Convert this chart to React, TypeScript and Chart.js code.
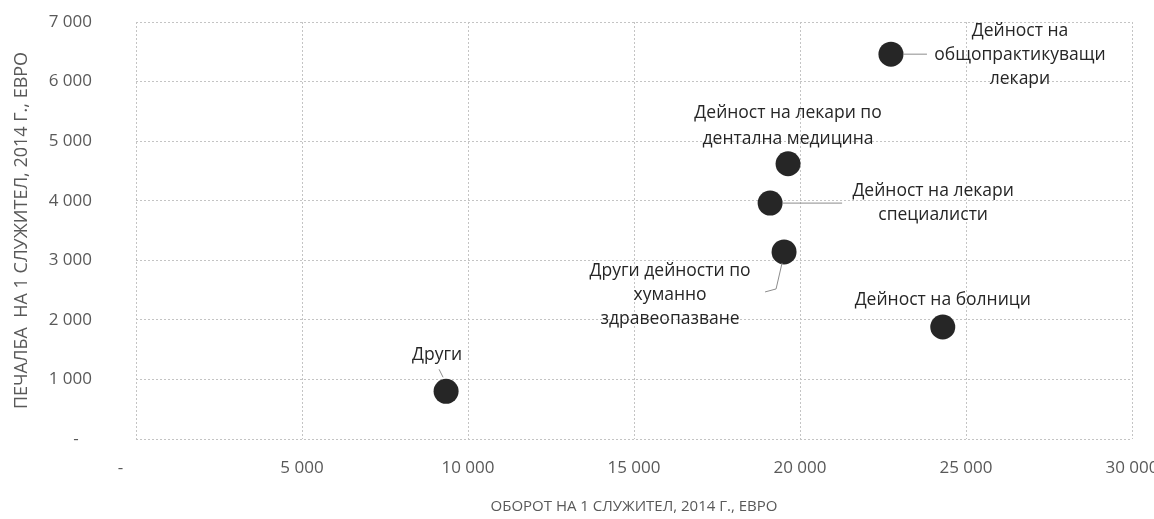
import React, { useEffect, useRef } from 'react';
import { Chart, registerables } from 'chart.js';

Chart.register(...registerables);

// ---- Data ----
const categories: string[][] = [
  ['Дейност на', 'общопрактикуващи', 'лекари'],
  ['Дейност на лекари по', 'дентална медицина'],
  ['Дейност на лекари', 'специалисти'],
  ['Други дейности по', 'хуманно', 'здравеопазване'],
  ['Дейност на болници'],
  ['Други'],
];
const turnoverPerEmployee = [22740, 19640, 19100, 19520, 24300, 9340];
const profitPerEmployee = [6460, 4620, 3960, 3140, 1880, 800];

const xTickLabels = ['-', '5 000', '10 000', '15 000', '20 000', '25 000', '30 000'];
const yTickLabels = ['-', '1 000', '2 000', '3 000', '4 000', '5 000', '6 000', '7 000'];

const xTitle = 'ОБОРОТ НА 1 СЛУЖИТЕЛ, 2014 Г., ЕВРО';
const yTitle = 'ПЕЧАЛБА  НА 1 СЛУЖИТЕЛ, 2014 Г., ЕВРО';

// ---- Styling / label placement (pixel offsets from each point) ----
const FONT = '"Open Sans", "Noto Sans", sans-serif';
const labelLayout: { dx: number; dy: number[]; leader?: number[][] }[] = [
  { dx: 129, dy: [-23, 1, 25], leader: [[12, 0], [36, 0]] },
  { dx: 0, dy: [-51, -25] },
  { dx: 163, dy: [-12, 12], leader: [[12, 0], [72, 0]] },
  { dx: -114, dy: [19, 43, 67], leader: [[-2, 11], [-8, 37], [-19, 40]] },
  { dx: 0, dy: [-27] },
  { dx: -9, dy: [-36], leader: [[-7, -22], [-3, -14]] },
];

const annotationPlugin = {
  id: 'pointAnnotations',
  afterDatasetsDraw(chart: any) {
    const ctx = chart.ctx as CanvasRenderingContext2D;
    const meta = chart.getDatasetMeta(0);
    ctx.save();
    meta.data.forEach((pt: any, i: number) => {
      const lay = labelLayout[i];
      const x = pt.x;
      const y = pt.y;
      if (lay.leader) {
        ctx.beginPath();
        ctx.strokeStyle = '#8c8c8c';
        ctx.lineWidth = 1;
        lay.leader.forEach(([lx, ly], k) => {
          if (k === 0) ctx.moveTo(x + lx, y + ly);
          else ctx.lineTo(x + lx, y + ly);
        });
        ctx.stroke();
      }
      ctx.font = `17.5px ${FONT}`;
      ctx.fillStyle = '#262626';
      ctx.textAlign = 'center';
      ctx.textBaseline = 'middle';
      categories[i].forEach((line, k) => {
        ctx.fillText(line, x + lay.dx, y + lay.dy[k]);
      });
    });
    ctx.restore();
  },
};

export default function App() {
  const canvasRef = useRef<HTMLCanvasElement | null>(null);

  useEffect(() => {
    if (!canvasRef.current) return;
    const gridColor = '#c4c4c4';
    const chart = new Chart(canvasRef.current, {
      type: 'scatter',
      data: {
        datasets: [
          {
            data: turnoverPerEmployee.map((v, i) => ({ x: v, y: profitPerEmployee[i] })),
            pointRadius: 12.5,
            pointHoverRadius: 12.5,
            backgroundColor: '#262626',
            borderWidth: 0,
          },
        ],
      },
      options: {
        animation: false,
        responsive: true,
        maintainAspectRatio: false,
        layout: { padding: { left: 0, top: 22, right: 22, bottom: 0 } },
        plugins: {
          legend: { display: false },
          tooltip: { enabled: false },
        },
        scales: {
          x: {
            type: 'linear',
            min: 0,
            max: 30000,
            ticks: {
              stepSize: 5000,
              autoSkip: false,
              maxRotation: 0,
              padding: 19,
              color: '#595959',
              font: { family: FONT, size: 17 },
              callback: (_v: any, i: number) => (i === 0 ? xTickLabels[i] + '       ' : xTickLabels[i]),
            },
            grid: { color: gridColor, lineWidth: 1, drawTicks: false },
            border: { display: false, dash: [2, 2] },
            title: {
              display: true,
              text: xTitle,
              color: '#595959',
              font: { family: FONT, size: 15 },
              padding: { top: 0, bottom: 3 },
            },
            afterFit: (s: any) => {
              s.height = 80;
              s.paddingLeft = 0;
              s.paddingRight = 0;
            },
          },
          y: {
            type: 'linear',
            min: 0,
            max: 7000,
            ticks: {
              stepSize: 1000,
              autoSkip: false,
              padding: 44,
              color: '#595959',
              font: { family: FONT, size: 17 },
              callback: (_v: any, i: number) => (i === 0 ? yTickLabels[i] + '   ' : yTickLabels[i]),
            },
            grid: { color: gridColor, lineWidth: 1, drawTicks: false },
            border: { display: false, dash: [2, 2] },
            title: {
              display: true,
              text: yTitle,
              color: '#595959',
              font: { family: FONT, size: 18 },
              padding: { top: 11, bottom: 0 },
            },
            afterFit: (s: any) => {
              s.width = 136;
              s.paddingTop = 0;
              s.paddingBottom = 0;
            },
          },
        },
      } as any,
      plugins: [annotationPlugin],
    });
    return () => chart.destroy();
  }, []);

  return (
    <div style={{ position: 'fixed', left: 0, top: 0, width: 1154, height: 519, background: '#ffffff' }}>
      <canvas ref={canvasRef} />
    </div>
  );
}
